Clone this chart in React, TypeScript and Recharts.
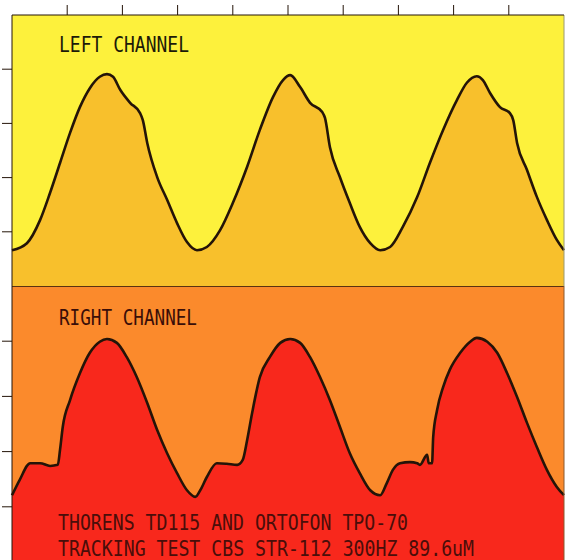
import { AreaChart, Area, XAxis, YAxis, CartesianGrid, ReferenceLine } from "recharts";

// x in grid divisions (0..10), level in divisions above each panel's lower edge
const leftTime = [
  0, 0.27, 0.51, 0.69, 0.87, 1.05, 1.23, 1.41, 1.59, 1.72, 1.83, 1.96, 2.14, 2.32, 2.37, 2.45,
  2.63, 2.81, 2.99, 3.17, 3.35, 3.53, 3.77, 4.0, 4.26, 4.49, 4.73, 4.91, 5.04, 5.22, 5.4, 5.62,
  5.67, 5.76, 5.94, 6.12, 6.3, 6.49, 6.67, 6.85, 7.08, 7.34, 7.57, 7.81, 8.06, 8.24, 8.42, 8.53,
  8.66, 8.84, 9.02, 9.08, 9.15, 9.33, 9.51, 9.69, 9.87, 10,
];
const leftLevel = [
  0.66, 0.79, 1.22, 1.72, 2.27, 2.82, 3.3, 3.65, 3.86, 3.91, 3.86, 3.62, 3.38, 3.19, 3.06, 2.64,
  2.01, 1.59, 1.16, 0.81, 0.66, 0.72, 1.03, 1.53, 2.2, 2.88, 3.49, 3.8, 3.89, 3.67, 3.38, 3.21,
  3.1, 2.56, 2.01, 1.53, 1.09, 0.79, 0.66, 0.72, 1.09, 1.64, 2.27, 2.88, 3.43, 3.75, 3.87, 3.8,
  3.56, 3.3, 3.19, 3.06, 2.64, 2.14, 1.64, 1.22, 0.85, 0.66,
];

const rightTime = [
  0, 0.14, 0.33, 0.51, 0.69, 0.83, 0.87, 0.92, 1.05, 1.23, 1.41, 1.59, 1.72, 1.9, 2.08, 2.26,
  2.45, 2.63, 2.81, 2.99, 3.17, 3.32, 3.41, 3.53, 3.71, 3.89, 4.08, 4.18, 4.26, 4.35, 4.49, 4.67,
  4.86, 5.04, 5.22, 5.4, 5.58, 5.76, 5.94, 6.12, 6.3, 6.49, 6.67, 6.79, 6.9, 7.03, 7.21, 7.34,
  7.39, 7.52, 7.55, 7.61, 7.63, 7.7, 7.81, 7.93, 8.12, 8.3, 8.42, 8.61, 8.79, 8.97, 9.15, 9.33,
  9.51, 9.69, 9.87, 10,
];
const rightLevel = [
  1.21, 1.49, 1.79, 1.79, 1.74, 1.76, 2.03, 2.45, 2.93, 3.42, 3.79, 3.99, 4.04, 3.97, 3.71, 3.35,
  2.88, 2.39, 1.97, 1.61, 1.3, 1.18, 1.3, 1.54, 1.79, 1.78, 1.76, 1.85, 2.21, 2.7, 3.35, 3.71,
  3.97, 4.04, 3.97, 3.71, 3.35, 2.93, 2.45, 1.97, 1.61, 1.3, 1.21, 1.43, 1.67, 1.79, 1.81, 1.79,
  1.76, 1.94, 1.79, 1.79, 2.26, 2.75, 3.17, 3.48, 3.79, 3.99, 4.06, 3.99, 3.79, 3.42, 2.99, 2.52,
  2.08, 1.67, 1.36, 1.21,
];

const xTicks = [1, 2, 3, 4, 5, 6, 7, 8, 9];
const yTicks = [1, 2, 3, 4];

const topLabel = "LEFT CHANNEL";
const bottomLabel = "RIGHT CHANNEL";
const captionLines = ["THORENS TD115 AND ORTOFON TPO-70", "TRACKING TEST CBS STR-112 300HZ 89.6uM"];

const leftData = leftTime.map((t, i) => ({ t, v: leftLevel[i] }));
const rightData = rightTime.map((t, i) => ({ t, v: rightLevel[i] }));

const INK = "#241408";
const blank = () => "";
const font = "'DejaVu Sans Mono', monospace";

export default function App() {
  return (
    <div style={{ position: "absolute", left: 0, top: 0, width: 565, height: 560, overflow: "hidden", background: "#fff" }}>
      <div style={{ position: "absolute", left: 0, top: 0 }}>
        <AreaChart width={565} height={286} data={leftData} margin={{ top: 5, right: 1, bottom: 0, left: 2 }}>
          <CartesianGrid fill="#fdf13c" horizontal={false} vertical={false} stroke="none" />
          <XAxis
            type="number"
            dataKey="t"
            orientation="top"
            domain={[0, 10]}
            ticks={xTicks}
            height={10}
            tickSize={10}
            tickFormatter={blank}
            stroke={INK}
            interval={0}
          />
          <YAxis
            type="number"
            domain={[0, 5]}
            ticks={yTicks}
            width={10}
            tickSize={10}
            tickFormatter={blank}
            stroke={INK}
            interval={0}
          />
          <Area
            type="monotone"
            dataKey="v"
            stroke={INK}
            strokeWidth={2.6}
            fill="#f8c02c"
            fillOpacity={1}
            isAnimationActive={false}
            dot={false}
            activeDot={false}
          />
          <ReferenceLine x={10} stroke="#9a9a70" strokeWidth={1} />
        </AreaChart>
      </div>
      <div style={{ position: "absolute", left: 0, top: 286 }}>
        <AreaChart width={565} height={276} data={rightData} margin={{ top: 0, right: 1, bottom: 0, left: 2 }}>
          <CartesianGrid fill="#fb8a2c" horizontal={false} vertical={false} stroke="none" />
          <XAxis type="number" dataKey="t" domain={[0, 10]} hide />
          <YAxis
            type="number"
            domain={[0, 5]}
            ticks={yTicks}
            width={10}
            tickSize={10}
            tickFormatter={blank}
            stroke={INK}
            interval={0}
          />
          <Area
            type="monotone"
            dataKey="v"
            stroke={INK}
            strokeWidth={2.6}
            fill="#f8281c"
            fillOpacity={1}
            isAnimationActive={false}
            dot={false}
            activeDot={false}
          />
          <ReferenceLine y={5} stroke={INK} strokeWidth={1.6} />
          <ReferenceLine x={10} stroke="#8a5a30" strokeWidth={1} />
        </AreaChart>
      </div>
      <svg
        width={565}
        height={560}
        style={{ position: "absolute", left: 0, top: 0, pointerEvents: "none" }}
        fontFamily={font}
        fontSize={21}
      >
        <text x={59} y={52} fill="#1c1a08" textLength={130} lengthAdjust="spacingAndGlyphs">
          {topLabel}
        </text>
        <text x={59} y={325} fill="#3a0e08" textLength={138} lengthAdjust="spacingAndGlyphs">
          {bottomLabel}
        </text>
        <text x={58} y={530} fill="#4a0e0a" textLength={350} lengthAdjust="spacingAndGlyphs">
          {captionLines[0]}
        </text>
        <text x={58} y={556} fill="#4a0e0a" textLength={416} lengthAdjust="spacingAndGlyphs">
          {captionLines[1]}
        </text>
      </svg>
    </div>
  );
}
